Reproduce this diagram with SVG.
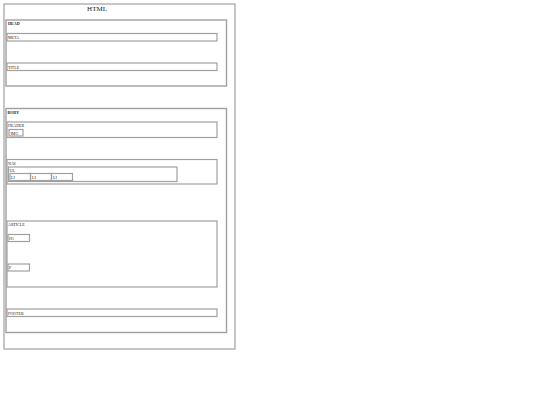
<svg xmlns="http://www.w3.org/2000/svg" width="540" height="405" viewBox="0 0 540 405">
<style>
rect{fill:none;stroke:#a0a0a0;stroke-width:1.2}
.b{stroke-width:1.4}
text{font-family:"Liberation Serif",serif;fill:#222;font-size:4px}
.t{font-size:7px;text-anchor:middle}
.h{font-weight:bold}
</style>
<rect width="540" height="405" fill="#fff" style="fill:#fff;stroke:none"/>
<g id="html"><rect x="4" y="4" width="231" height="345"/><text class="t" x="97" y="10.5">HTML</text></g>
<g id="head"><rect class="b" x="6" y="20" width="220.5" height="66"/><text class="h" x="8" y="25">HEAD</text></g>
<g id="meta"><rect x="7" y="33.5" width="210" height="7.5"/><text x="8" y="39">META</text></g>
<g id="title"><rect x="7" y="63" width="210" height="7.5"/><text x="8" y="68.5">TITLE</text></g>
<g id="body"><rect class="b" x="6" y="108.5" width="220.5" height="224"/><text class="h" x="7.5" y="113.5">BODY</text></g>
<g id="header"><rect x="7" y="122" width="210" height="15.5"/><text x="8" y="127">HEADER</text></g>
<g id="img"><rect x="9" y="129.5" width="14" height="6.5"/><text x="10.5" y="134.5">IMG</text></g>
<g id="nav"><rect x="7" y="159.5" width="210" height="24.5"/><text x="8" y="164.5">NAV</text></g>
<g id="ul"><rect x="8.5" y="167" width="168.5" height="14.5"/><text x="9.5" y="172">UL</text></g>
<g id="li1"><rect x="10" y="173.5" width="20.5" height="7"/><text x="11" y="178.5">LI</text></g>
<g id="li2"><rect x="30.5" y="173.5" width="21" height="7"/><text x="32" y="178.5">LI</text></g>
<g id="li3"><rect x="51.5" y="173.5" width="21" height="7"/><text x="53" y="178.5">LI</text></g>
<g id="article"><rect x="7" y="221" width="210" height="66"/><text x="8" y="226">ARTICLE</text></g>
<g id="h1"><rect x="8" y="234.5" width="21.5" height="7"/><text x="9" y="239.5">H1</text></g>
<g id="p"><rect x="8" y="264" width="21.5" height="7"/><text x="9" y="269">P</text></g>
<g id="footer"><rect x="7" y="309" width="210" height="7.5"/><text x="8" y="314.5">FOOTER</text></g>
<g id="connectors"></g>
</svg>
